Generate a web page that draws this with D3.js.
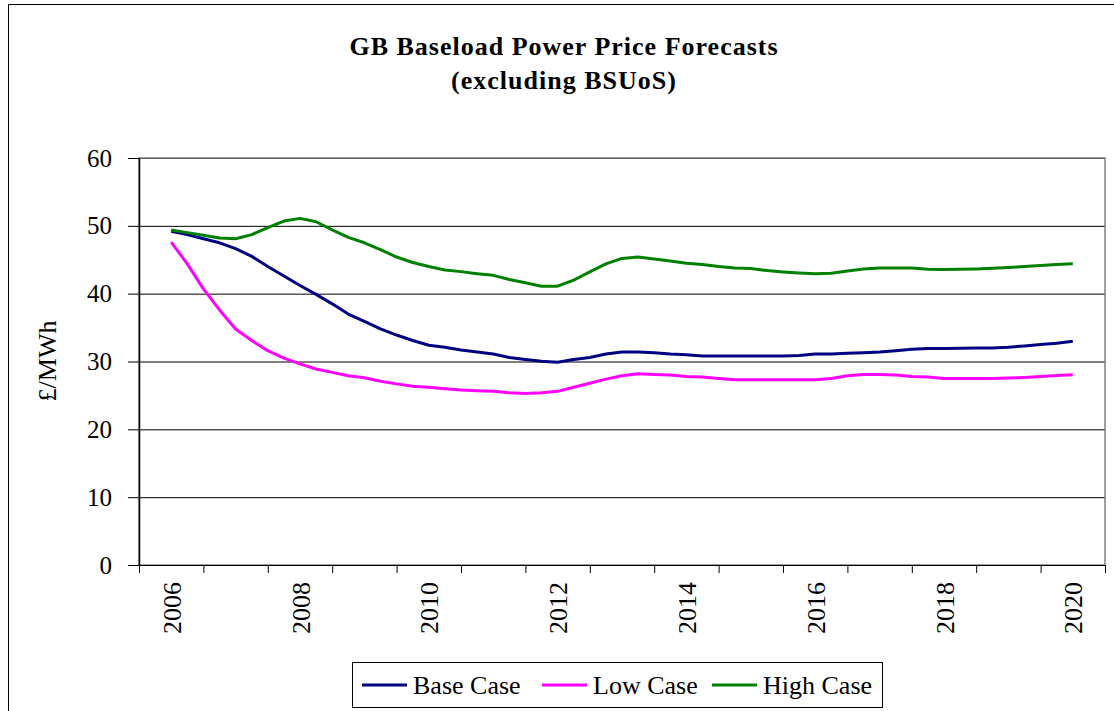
<html><head>
<script src="https://cdnjs.cloudflare.com/ajax/libs/d3/7.8.5/d3.min.js"></script>
<style>
  body { margin: 0; background: #fff; }
  svg text { font-family: "Liberation Serif", "Times New Roman", serif; fill: #000; }
</style>
</head>
<body>
<svg id="chart" width="1114" height="711"></svg>
<script>
// quarterly periods, 2006 Q1 .. 2020 Q1
const periods = [
  2006, 2006.25, 2006.5, 2006.75, 2007, 2007.25, 2007.5, 2007.75,
  2008, 2008.25, 2008.5, 2008.75, 2009, 2009.25, 2009.5, 2009.75,
  2010, 2010.25, 2010.5, 2010.75, 2011, 2011.25, 2011.5, 2011.75,
  2012, 2012.25, 2012.5, 2012.75, 2013, 2013.25, 2013.5, 2013.75,
  2014, 2014.25, 2014.5, 2014.75, 2015, 2015.25, 2015.5, 2015.75,
  2016, 2016.25, 2016.5, 2016.75, 2017, 2017.25, 2017.5, 2017.75,
  2018, 2018.25, 2018.5, 2018.75, 2019, 2019.25, 2019.5, 2019.75,
  2020
];

const baseCase = [
  49.2, 48.7, 48.1, 47.5, 46.65, 45.5, 44.0, 42.6,
  41.2, 39.9, 38.5, 37.0, 35.9, 34.8, 33.9, 33.1,
  32.4, 32.1, 31.7, 31.4, 31.1, 30.6, 30.3, 30.05,
  29.9, 30.3, 30.6, 31.1, 31.4, 31.4, 31.3, 31.1,
  31.0, 30.8, 30.8, 30.8, 30.8, 30.8, 30.8, 30.9,
  31.1, 31.1, 31.2, 31.3, 31.4, 31.6, 31.8, 31.9,
  31.9, 31.95, 32.0, 32.0, 32.1, 32.3, 32.5, 32.7,
  33.0
];

const lowCase = [
  47.6, 44.4, 40.7, 37.6, 34.8, 33.1, 31.6, 30.5,
  29.65, 28.9, 28.4, 27.9, 27.6, 27.1, 26.7, 26.35,
  26.2, 26.0, 25.8, 25.7, 25.6, 25.4, 25.3, 25.4,
  25.6, 26.2, 26.8, 27.4, 27.9, 28.2, 28.1, 28.0,
  27.8, 27.7, 27.5, 27.3, 27.3, 27.3, 27.3, 27.3,
  27.3, 27.5, 27.9, 28.1, 28.1, 28.0, 27.8, 27.7,
  27.5, 27.5, 27.5, 27.5, 27.55, 27.65, 27.8, 27.95,
  28.05
];

const highCase = [
  49.4, 49.0, 48.6, 48.2, 48.1, 48.7, 49.75, 50.7,
  51.1, 50.6, 49.4, 48.3, 47.5, 46.5, 45.4, 44.6,
  44.0, 43.5, 43.25, 42.95, 42.7, 42.1, 41.6, 41.1,
  41.1, 42.0, 43.2, 44.4, 45.2, 45.4, 45.1, 44.8,
  44.5, 44.3, 44.0, 43.8, 43.7, 43.4, 43.2, 43.05,
  42.95, 43.0, 43.35, 43.65, 43.8, 43.8, 43.8, 43.6,
  43.55, 43.6, 43.65, 43.75, 43.85, 44.0, 44.15, 44.3,
  44.4
];

const yearLabels = [2006, 2008, 2010, 2012, 2014, 2016, 2018, 2020];
const yearTicks = [2005.5, 2006.5, 2007.5, 2008.5, 2009.5, 2010.5, 2011.5, 2012.5,
  2013.5, 2014.5, 2015.5, 2016.5, 2017.5, 2018.5, 2019.5, 2020.5];
const yTicks = [0, 10, 20, 30, 40, 50, 60];

const seriesNames = ["Base Case", "Low Case", "High Case"];
const seriesColors = ["#000080", "#ff00ff", "#008000"];
const seriesValues = [baseCase, lowCase, highCase];

const svg = d3.select("#chart");
const plotL = 139, plotR = 1105, plotT = 158, plotB = 565;

// outer chart frame (only left and top edges are in view)
svg.append("path")
  .attr("d", "M8.5,711V4.5H1114")
  .attr("fill", "none")
  .attr("stroke", "#000")
  .attr("stroke-width", 1);

const x = d3.scaleLinear().domain([2005.5, 2020.5]).range([plotL, plotR]);
const y = d3.scaleLinear().domain([0, 60]).range([plotB, plotT]);

// gridlines
svg.append("g")
  .attr("transform", `translate(${plotL},0)`)
  .call(d3.axisLeft(y).tickValues(yTicks).tickSize(-(plotR - plotL)).tickFormat(""))
  .call(g => g.select(".domain").remove())
  .call(g => g.selectAll("line").attr("stroke", "#000").attr("stroke-width", 1));

// plot area border
svg.append("rect")
  .attr("x", plotL).attr("y", plotT)
  .attr("width", plotR - plotL).attr("height", plotB - plotT)
  .attr("fill", "none")
  .attr("stroke", "#808080")
  .attr("stroke-width", 1.5);

// y axis
svg.append("g")
  .attr("transform", `translate(${plotL},0)`)
  .call(d3.axisLeft(y).tickValues(yTicks).tickSize(11).tickPadding(16).tickSizeOuter(0))
  .call(g => g.select(".domain").attr("stroke", "#000").attr("stroke-width", 1.5))
  .call(g => g.selectAll("line").attr("stroke", "#000"))
  .call(g => g.selectAll("text").attr("font-size", 25).attr("font-family", "Liberation Serif"));

// x axis tick marks
svg.append("g")
  .attr("transform", `translate(0,${plotB})`)
  .call(d3.axisBottom(x).tickValues(yearTicks).tickSize(8).tickFormat("").tickSizeOuter(0))
  .call(g => g.select(".domain").attr("stroke", "#000").attr("stroke-width", 1))
  .call(g => g.selectAll("line").attr("stroke", "#000"));

// x axis labels, rotated
svg.append("g")
  .attr("transform", `translate(0,${plotB})`)
  .call(d3.axisBottom(x).tickValues(yearLabels).tickSize(0).tickFormat(d3.format("d")))
  .call(g => g.select(".domain").remove())
  .call(g => g.selectAll("text")
    .attr("font-size", 26)
    .attr("font-family", "Liberation Serif")
    .attr("text-anchor", "end")
    .attr("transform", "rotate(-90)")
    .attr("x", -17)
    .attr("y", 0)
    .attr("dy", "0.35em"));

// y axis title
svg.append("text")
  .attr("transform", "translate(56,361) rotate(-90)")
  .attr("text-anchor", "middle")
  .attr("font-size", 26)
  .text("£/MWh");

// chart title
const title = svg.append("text")
  .attr("text-anchor", "middle")
  .attr("font-weight", "bold")
  .attr("font-size", 26)
  .attr("letter-spacing", 1);
title.append("tspan").attr("x", 564).attr("y", 55).text("GB Baseload Power Price Forecasts");
title.append("tspan").attr("x", 564).attr("y", 89).text("(excluding BSUoS)");

// series lines
const line = d3.line()
  .x((d, i) => x(periods[i]))
  .y(d => y(d));

svg.append("g")
  .selectAll("path")
  .data(seriesValues)
  .join("path")
  .attr("d", line)
  .attr("fill", "none")
  .attr("stroke", (d, i) => seriesColors[i])
  .attr("stroke-width", 3)
  .attr("stroke-linejoin", "round");

// legend
const legend = svg.append("g");
legend.append("rect")
  .attr("x", 352.5).attr("y", 662.5)
  .attr("width", 530).attr("height", 45)
  .attr("fill", "#fff")
  .attr("stroke", "#000")
  .attr("stroke-width", 1);

const legendX = [362, 542, 712];
seriesNames.forEach((name, i) => {
  legend.append("line")
    .attr("x1", legendX[i]).attr("x2", legendX[i] + 45)
    .attr("y1", 685).attr("y2", 685)
    .attr("stroke", seriesColors[i])
    .attr("stroke-width", 3);
  legend.append("text")
    .attr("x", legendX[i] + 51)
    .attr("y", 694)
    .attr("font-size", 26)
    .text(name);
});
</script>
</body></html>
